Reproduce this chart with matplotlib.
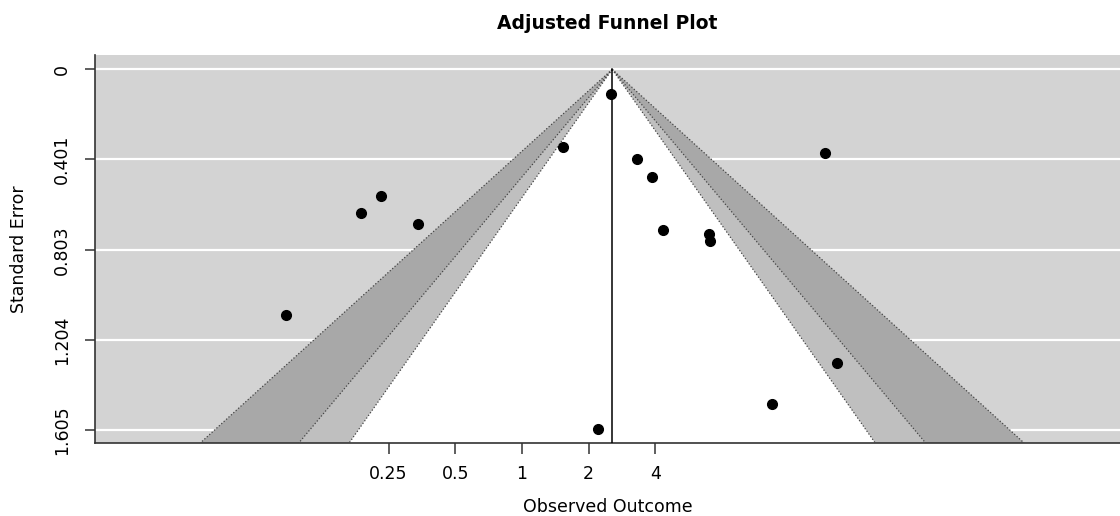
import numpy as np
import matplotlib
matplotlib.use("Agg")
import matplotlib.pyplot as plt

# observed outcomes (log scale) and their standard errors
yi = [-2.453, -1.674, -1.466, -1.078, 0.423, 0.925, 0.787, 1.192,
      1.351, 1.469, 1.947, 1.961, 2.599, 3.153, 3.274]
sei = [1.093, 0.640, 0.563, 0.690, 0.347, 0.111, 1.601, 0.398,
       0.481, 0.714, 0.733, 0.766, 1.491, 0.371, 1.307]

estimate = 0.939          # adjusted pooled estimate (log scale)
levels = [99, 95, 90]
zvals = [2.576, 1.960, 1.645]
shades = ["#a8a8a8", "#bfbfbf", "white"]

xtick_vals = [0.25, 0.5, 1, 2, 4]
ytick_vals = [0, 0.401, 0.803, 1.204, 1.605]

xlim = (-4.44, 6.22)
ylim = (1.663, -0.064)

fig = plt.figure(figsize=(11.2, 5.16), dpi=100)
ax = fig.add_axes([0.0848, 0.1415, 0.9152, 0.7519])
ax.set_facecolor("#d3d3d3")
ax.set_xlim(*xlim)
ax.set_ylim(*ylim)

# white grid lines under the funnel
for y in ytick_vals:
    ax.axhline(y, color="white", lw=1.6, zorder=1)

# contour regions
se_max = ylim[0]
for z, col in zip(zvals, shades):
    xs = [estimate - z * se_max, estimate, estimate + z * se_max]
    ys = [se_max, 0, se_max]
    ax.fill(xs, ys, color=col, lw=0, zorder=2)
for z in zvals:
    for sgn in (-1, 1):
        ax.plot([estimate, estimate + sgn * z * se_max], [0, se_max],
                color="#444444", lw=0.9, ls=(0, (1, 1.6)), zorder=3)

ax.plot([estimate, estimate], [0, se_max], color="black", lw=1.1, zorder=4)
ax.plot(yi, sei, "o", color="black", ms=7, zorder=5, clip_on=False)

for s in ["top", "right"]:
    ax.spines[s].set_visible(False)
for s in ["left", "bottom"]:
    ax.spines[s].set_color("#333333")
    ax.spines[s].set_linewidth(1.2)

ax.set_xticks(np.log(xtick_vals))
ax.set_xticklabels([str(v) for v in xtick_vals])
ax.set_yticks(ytick_vals)
ax.set_yticklabels(["0", "0.401", "0.803", "1.204", "1.605"], rotation=90, va="center")
ax.tick_params(axis="x", length=8, width=1.1, color="#333333", labelsize=12.5, pad=8)
ax.tick_params(axis="y", length=7, width=1.1, color="#333333", labelsize=12.5, pad=10.5)

ax.set_xlabel("Observed Outcome", fontsize=12.5, labelpad=11)
ax.set_ylabel("Standard Error", fontsize=12.5, labelpad=18)
ax.set_title("Adjusted Funnel Plot", fontsize=13.5, fontweight="bold", pad=19)

fig.savefig("out.png", dpi=100)
